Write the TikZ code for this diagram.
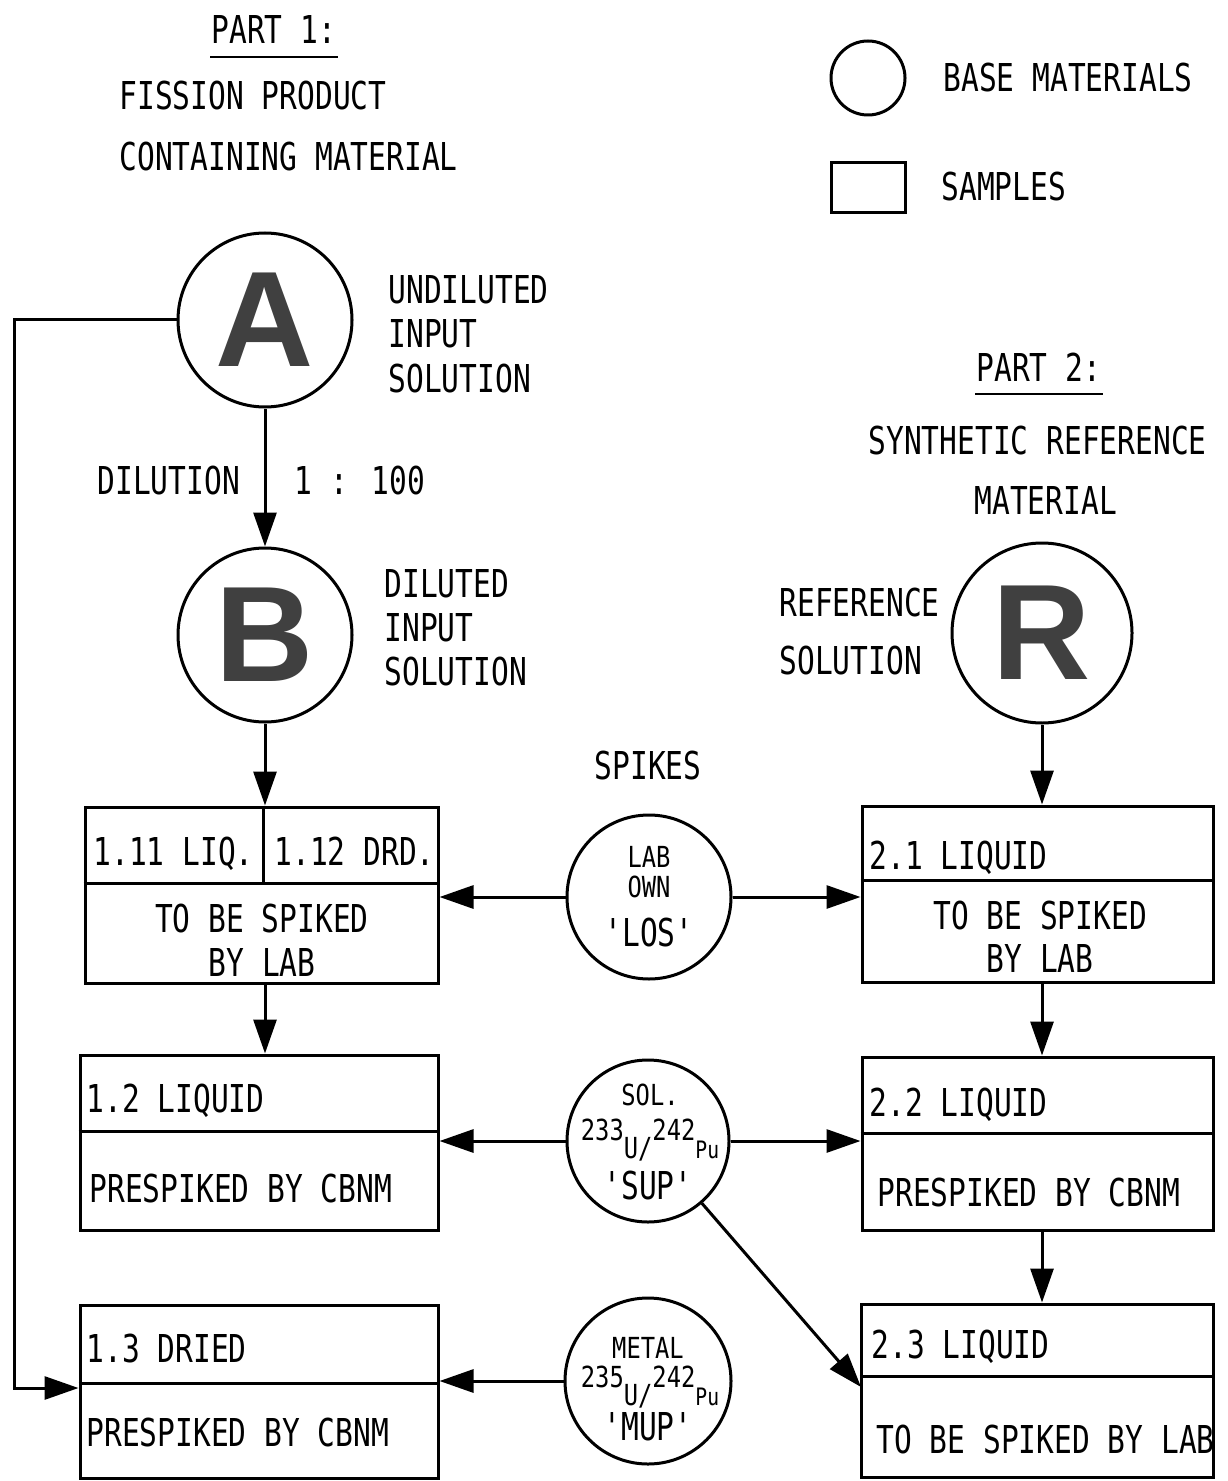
\documentclass[tikz,border=0pt]{standalone}
\usepackage{fontspec}
\newfontfamily\tw{DejaVu Sans Mono}[FakeStretch=0.77]
\newfontfamily\twn{DejaVu Sans Mono}[FakeStretch=0.82]
\newfontfamily\bigf{Liberation Sans}
\usetikzlibrary{arrows.meta}
\begin{document}
\begin{tikzpicture}[x=0.5pt,y=-0.5pt, line width=1.5pt,
  txt/.style={font=\tw\fontsize{19.2}{23}\selectfont, inner sep=0pt, anchor=base west},
  ctxt/.style={txt, anchor=base},
  smalltxt/.style={font=\twn\fontsize{14.5}{17}\selectfont, inner sep=0pt, anchor=base},
  basemat/.style={circle, draw, inner sep=0pt},
  sample/.style={rectangle, draw, inner sep=0pt},
  bigletter/.style={font=\bigf\bfseries\fontsize{68}{74}\selectfont, text=black!75},
  arr/.style={-{Triangle[length=17pt,width=11.5pt]}}
]
\useasboundingbox (0,0) rectangle (1227,1481);

% legend
\node[basemat, minimum size=37pt] (legc) at (868,78) {};
\node[txt] (legct) at (942,92) {BASE MATERIALS};
\node[sample, minimum width=37pt, minimum height=25pt] (legs) at (868,188) {};
\node[txt] (legst) at (940,201) {SAMPLES};

% part 1 headings
\node[txt] (p1) at (210,44) {PART 1:};
\draw[line width=1pt] ([yshift=-6.5pt]p1.base west) -- ([yshift=-6.5pt]p1.base east);
\node[txt] (p1a) at (118,110) {FISSION PRODUCT};
\node[txt] (p1b) at (118,171) {CONTAINING MATERIAL};

% part 2 headings
\node[txt] (p2) at (975,381) {PART 2:};
\draw[line width=1pt] ([yshift=-6.5pt]p2.base west) -- ([yshift=-6.5pt]p2.base east);
\node[txt] (p2a) at (867,454) {SYNTHETIC REFERENCE};
\node[txt] (p2b) at (973,514) {MATERIAL};

% base materials
\node[basemat, bigletter, minimum size=87pt] (A) at (265,320) {A};
\node[txt] (At1) at (387,304) {UNDILUTED};
\node[txt] (At2) at (387,347) {INPUT};
\node[txt] (At3) at (387,392) {SOLUTION};

\node[txt] (dil) at (96,494) {DILUTION};
\node[txt] (rat) at (293,494) {1 : 100};

\node[basemat, bigletter, minimum size=87pt] (B) at (265,635) {B};
\node[txt] (Bt1) at (383,597) {DILUTED};
\node[txt] (Bt2) at (383,641) {INPUT};
\node[txt] (Bt3) at (383,685) {SOLUTION};

\node[basemat, bigletter, minimum size=90pt] (R) at (1042,633) {R};
\node[txt] (Rt1) at (778,616) {REFERENCE};
\node[txt] (Rt2) at (778,674) {SOLUTION};

% spikes
\node[ctxt] (spk) at (648,779) {SPIKES};
\node[basemat, minimum size=82pt] (LOS) at (649,897) {};
\node[smalltxt] (LOSa) at (649,867) {LAB};
\node[smalltxt] (LOSb) at (649,897) {OWN};
\node[ctxt] (LOSc) at (649,946) {'LOS'};

\node[basemat, minimum size=81pt] (SUP) at (648,1141) {};
\node[smalltxt] (SUPa) at (650,1105) {SOL.};
\node[smalltxt] (SUPb) at (650,1158) {\raisebox{9pt}{233}U/\raisebox{9pt}{242}{\fontsize{12}{14}\selectfont Pu}};
\node[ctxt] (SUPc) at (648,1199) {'SUP'};

\node[basemat, minimum size=83pt] (MUP) at (648,1381) {};
\node[smalltxt] (MUPa) at (648,1358) {METAL};
\node[smalltxt] (MUPb) at (650,1405) {\raisebox{9pt}{235}U/\raisebox{9pt}{242}{\fontsize{12}{14}\selectfont Pu}};
\node[ctxt] (MUPc) at (648,1440) {'MUP'};

% samples part 1
\node[sample, minimum width=176.5pt, minimum height=88pt] (b11) at (261.5,895) {};
\draw ([yshift=-39pt]b11.north west) -- ([yshift=-39pt]b11.north east);
\draw ([xshift=0.75pt]b11.north) -- ([xshift=0.75pt,yshift=-39pt]b11.north);
\node[txt] (b11a) at (92,865) {1.11 LIQ.};
\node[txt] (b11b) at (273,865) {1.12 DRD.};
\node[ctxt] (b11c) at (262,932) {TO BE SPIKED};
\node[ctxt] (b11d) at (262,976) {BY LAB};

\node[sample, minimum width=179pt, minimum height=87.5pt] (b12) at (259,1142.5) {};
\draw ([yshift=-39pt]b12.north west) -- ([yshift=-39pt]b12.north east);
\node[txt] (b12a) at (85,1112) {1.2 LIQUID};
\node[txt] (b12b) at (88,1202) {PRESPIKED BY CBNM};

\node[sample, minimum width=179pt, minimum height=86.5pt] (b13) at (259,1391.5) {};
\draw ([yshift=-40pt]b13.north west) -- ([yshift=-40pt]b13.north east);
\node[txt] (b13a) at (85,1362) {1.3 DRIED};
\node[txt] (b13b) at (85,1446) {PRESPIKED BY CBNM};

% samples part 2
\node[sample, minimum width=175.5pt, minimum height=88pt] (b21) at (1037.5,894) {};
\draw ([yshift=-38pt]b21.north west) -- ([yshift=-38pt]b21.north east);
\node[txt] (b21a) at (868,869) {2.1 LIQUID};
\node[ctxt] (b21c) at (1040,929) {TO BE SPIKED};
\node[ctxt] (b21d) at (1040,972) {BY LAB};

\node[sample, minimum width=175.5pt, minimum height=86.5pt] (b22) at (1037.5,1143.5) {};
\draw ([yshift=-39pt]b22.north west) -- ([yshift=-39pt]b22.north east);
\node[txt] (b22a) at (868,1116) {2.2 LIQUID};
\node[txt] (b22b) at (876,1206) {PRESPIKED BY CBNM};

\node[sample, minimum width=176pt, minimum height=86.5pt] (b23) at (1037,1390.5) {};
\draw ([yshift=-37pt]b23.north west) -- ([yshift=-37pt]b23.north east);
\node[txt] (b23a) at (870,1358) {2.3 LIQUID};
\node[txt] (b23b) at (875,1453) {TO BE SPIKED BY LAB};

% connectors
\draw[arr] (A.south) -- (B.north);
\draw[arr] (B.south) -- (B.south |- b11.north);
\draw[arr] (B.south |- b11.south) -- (B.south |- b12.north);
\coordinate (corner) at (14,1388);
\draw[arr] (A.west) -| (corner) -- (corner -| b13.west);
\draw[arr] (LOS.west) -- (LOS.west -| b11.east);
\draw[arr] (LOS.east) -- (LOS.east -| b21.west);
\draw[arr] (SUP.west) -- (SUP.west -| b12.east);
\draw[arr] (SUP.east) -- (SUP.east -| b22.west);
\coordinate (d23) at (861,1387);
\draw[arr] (SUP) -- (d23);
\draw[arr] (MUP.west) -- (MUP.west -| b13.east);
\draw[arr] (R.south) -- (R.south |- b21.north);
\draw[arr] (R.south |- b21.south) -- (R.south |- b22.north);
\draw[arr] (R.south |- b22.south) -- (R.south |- b23.north);
\end{tikzpicture}
\end{document}
